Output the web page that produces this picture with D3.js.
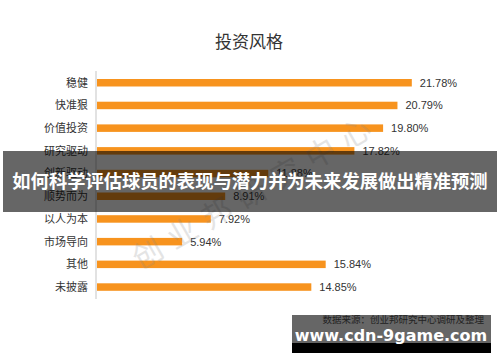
<!DOCTYPE html>
<html>
<head>
<meta charset="utf-8">
<script src="https://cdn.jsdelivr.net/npm/d3@7"></script>
<style>
  body { margin: 0; background: #fff; }
  svg { display: block; }
</style>
</head>
<body>
<svg id="chart" width="500" height="362"></svg>
<script>
// chart data
var categories = ['稳健', '快准狠', '价值投资', '研究驱动', '创新驱动', '顺势而为', '以人为本', '市场导向', '其他', '未披露'];
var values = [21.78, 20.79, 19.80, 17.82, 11.88, 8.91, 7.92, 5.94, 15.84, 14.85];
var title = '投资风格';
var bannerText = '如何科学评估球员的表现与潜力并为未来发展做出精准预测';
var sourceText = '数据来源：创业邦研究中心调研及整理';
var siteText = 'www.cdn-9game.com';
var watermarkText = '创业邦研究中心';

var font = '"Liberation Sans", "Noto Sans CJK SC", sans-serif';
var svg = d3.select('#chart');

var rows = categories.map(function(c, i) { return { name: c, value: values[i] }; });

// scales
var xScale = d3.scaleLinear().domain([0, 24]).range([96, 96 + 24 * 14.5]);
var yScale = d3.scaleBand().domain(categories).range([71.4, 298.4]).paddingInner(0.67).paddingOuter(0.335);

// title
svg.append('text')
    .attr('x', 249)
    .attr('y', 48)
    .attr('text-anchor', 'middle')
    .style('font-family', font)
    .style('font-size', '17px')
    .style('fill', '#333')
    .text(title);

// left axis line
svg.append('line')
    .attr('x1', xScale(0)).attr('x2', xScale(0))
    .attr('y1', 71).attr('y2', 299)
    .style('stroke', '#d9d9d9')
    .style('stroke-width', 1.5);

// bars
svg.selectAll('.bar')
    .data(rows)
    .enter()
    .append('rect')
    .attr('class', 'bar')
    .attr('x', xScale(0) + 1)
    .attr('y', function(d) { return yScale(d.name); })
    .attr('width', function(d) { return xScale(d.value) - xScale(0) - 1; })
    .attr('height', yScale.bandwidth())
    .style('fill', '#f7931e');

// category labels
svg.selectAll('.cat')
    .data(rows)
    .enter()
    .append('text')
    .attr('class', 'cat')
    .attr('x', 88)
    .attr('y', function(d) { return yScale(d.name) + yScale.bandwidth() / 2; })
    .attr('dy', '0.35em')
    .attr('text-anchor', 'end')
    .style('font-family', font)
    .style('font-size', '11px')
    .style('fill', '#333')
    .text(function(d) { return d.name; });

// value labels
svg.selectAll('.val')
    .data(rows)
    .enter()
    .append('text')
    .attr('class', 'val')
    .attr('x', function(d) { return xScale(d.value) + 8; })
    .attr('y', function(d) { return yScale(d.name) + yScale.bandwidth() / 2; })
    .attr('dy', '0.35em')
    .style('font-family', font)
    .style('font-size', '11px')
    .style('fill', '#333')
    .text(function(d) { return d.value.toFixed(2) + '%'; });

// watermark
svg.append('text')
    .attr('transform', 'translate(256,191) rotate(-30)')
    .attr('text-anchor', 'middle')
    .attr('dy', '0.35em')
    .style('font-family', font)
    .style('font-size', '30px')
    .style('letter-spacing', '10px')
    .style('fill', '#888')
    .style('opacity', 0.22)
    .text(watermarkText);

// overlay banner
svg.append('rect')
    .attr('x', 3).attr('y', 151)
    .attr('width', 494).attr('height', 61)
    .style('fill', 'rgba(0,0,0,0.6)');
svg.append('text')
    .attr('x', 250)
    .attr('y', 182)
    .attr('dy', '0.35em')
    .attr('text-anchor', 'middle')
    .style('font-family', font)
    .style('font-size', '18.3px')
    .style('font-weight', 'bold')
    .style('fill', '#fff')
    .text(bannerText);

// source + site box
svg.append('rect')
    .attr('x', 292).attr('y', 315)
    .attr('width', 199).attr('height', 28)
    .style('fill', '#666');
svg.append('rect')
    .attr('x', 292).attr('y', 343)
    .attr('width', 199).attr('height', 10)
    .style('fill', '#000');
svg.append('text')
    .attr('x', 484)
    .attr('y', 320)
    .attr('dy', '0.35em')
    .attr('text-anchor', 'end')
    .style('font-family', font)
    .style('font-size', '9.5px')
    .style('fill', '#222')
    .text(sourceText);
svg.append('text')
    .attr('x', 391)
    .attr('y', 341)
    .attr('text-anchor', 'middle')
    .style('font-family', '"DejaVu Sans", sans-serif')
    .style('font-size', '16px')
    .style('font-weight', 'bold')
    .style('fill', '#fff')
    .text(siteText);
</script>
</body>
</html>
